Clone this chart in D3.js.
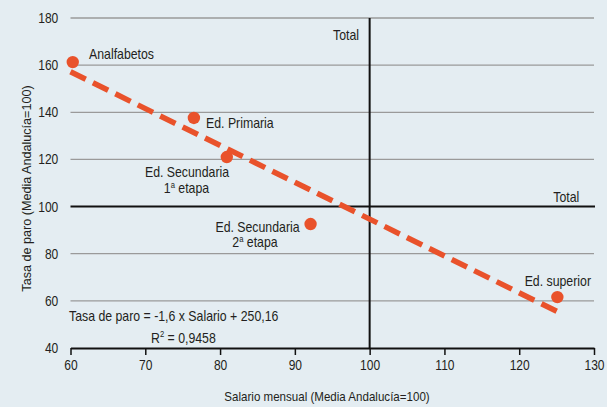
<!DOCTYPE html>
<html><head><meta charset="utf-8">
<script src="https://cdn.jsdelivr.net/npm/d3@7"></script>
<style>
body{margin:0;background:#e4edf2;}
svg{display:block;}
text{font-family:"Liberation Sans",Arial,sans-serif;fill:#231f20;}
</style></head><body>
<script>
const categories = ["Analfabetos","Ed. Primaria","Ed. Secundaria 1ª etapa","Ed. Secundaria 2ª etapa","Ed. superior"];
const salario = [60.3, 76.5, 80.9, 92.1, 125.1];
const tasaParo = [161.3, 137.6, 121.0, 92.6, 61.6];
const trendX = [60, 125.2];
const trendY = [157.2, 55.3];
const xTicks = [60,70,80,90,100,110,120,130];
const yTicks = [40,60,80,100,120,140,160,180];

const W=607,H=407;
const SX=0.88;
const svg=d3.select("body").append("svg").attr("width",W).attr("height",H);
const x=d3.scaleLinear().domain([60,130]).range([70.5,594]);
const y=d3.scaleLinear().domain([40,180]).range([348,18]);

// gridlines
svg.append("g").selectAll("line").data(yTicks.filter(d=>d!==40&&d!==100)).join("line")
  .attr("x1",x(60)).attr("x2",x(130)).attr("y1",d=>y(d)).attr("y2",d=>y(d))
  .attr("stroke","#9a9a9a").attr("stroke-width",1.3);

// reference lines at 100
svg.append("line").attr("x1",x(60)).attr("x2",x(130)+1).attr("y1",y(100)).attr("y2",y(100))
  .attr("stroke","#111").attr("stroke-width",2);
svg.append("line").attr("x1",x(100)).attr("x2",x(100)).attr("y1",y(180)).attr("y2",y(40))
  .attr("stroke","#111").attr("stroke-width",2);

// x axis
const xa=svg.append("g").attr("transform",`translate(0,${y(40)})`)
  .call(d3.axisBottom(x).tickValues(xTicks).tickSize(7).tickPadding(5).tickSizeOuter(0));
xa.select(".domain").attr("stroke","#111").attr("stroke-width",2);
xa.selectAll(".tick line").attr("stroke","#111").attr("stroke-width",1.5);
xa.selectAll("text").attr("font-size",14).attr("font-family","Liberation Sans").attr("fill","#231f20")
  .attr("transform","scale(0.86,1)");

// y axis labels
const ya=svg.append("g").attr("transform",`translate(${x(60)},0)`)
  .call(d3.axisLeft(y).tickValues(yTicks).tickSize(0).tickPadding(14.2));
ya.select(".domain").remove();
ya.selectAll("text").attr("font-size",14).attr("font-family","Liberation Sans").attr("fill","#231f20")
  .attr("transform","scale(0.86,1)");

// trend line
svg.append("path").datum(d3.zip(trendX,trendY))
  .attr("d",d3.line().x(d=>x(d[0])).y(d=>y(d[1])))
  .attr("fill","none").attr("stroke","#e9522b").attr("stroke-width",5.5).attr("stroke-dasharray","17,8");

// points
svg.append("g").selectAll("circle").data(d3.range(categories.length)).join("circle")
  .attr("cx",i=>x(salario[i])).attr("cy",i=>y(tasaParo[i])).attr("r",6.2)
  .attr("fill","#e9522b");

function txt(content,px,py,anchor,size,sx,rot){
  const t=svg.append("text").attr("font-size",size).attr("text-anchor",anchor)
    .attr("transform",`translate(${px},${py})${rot?" rotate("+rot+")":""} scale(${sx},1)`);
  if(Array.isArray(content)){
    t.text(content[0]);
    t.append("tspan").attr("font-size",size*0.62).attr("dy",-5.5).text(content[1]);
    t.append("tspan").attr("dy",5.5).text(content[2]);
  } else t.text(content);
  return t;
}
txt("Analfabetos",89,59,"start",14,SX);
txt("Ed. Primaria",206,128,"start",14,SX);
txt("Ed. Secundaria",187,177,"middle",14,SX);
txt(["1","a"," etapa"],186.5,193,"middle",14,SX);
txt("Ed. Secundaria",257.5,231.5,"middle",14,SX);
txt(["2","a"," etapa"],255,247,"middle",14,SX);
txt("Ed. superior",591,286,"end",14,SX);
txt("Total",359,40,"end",14,SX);
txt("Total",579.3,201.5,"end",14,SX);
txt("Tasa de paro = -1,6 x Salario + 250,16",69,320.7,"start",14,SX);
txt(["R","2"," = 0,9458"],151,342.7,"start",14,SX);

txt("Salario mensual (Media Andalucía=100)",327,401,"middle",13,0.89);
txt("Tasa de paro (Media Andalucía=100)",31,188.5,"middle",13,0.97,-90);
</script></body></html>
